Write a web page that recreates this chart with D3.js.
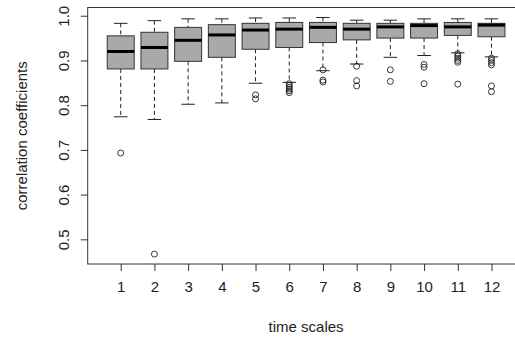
<!DOCTYPE html>
<html>
<head>
<meta charset="utf-8">
<script src="https://cdn.jsdelivr.net/npm/d3@7"></script>
<style>
  body { margin:0; background:#fff; }
  svg text { font-family: "Liberation Sans", Arial, sans-serif; fill:#222; }
</style>
</head>
<body>
<div id="chart"></div>
<script>
// time scales on x axis
var categories = [1,2,3,4,5,6,7,8,9,10,11,12];

// box stats
var whiskHi = [0.983,0.989,0.993,0.993,0.995,0.995,0.996,0.990,0.990,0.993,0.993,0.993];
var upperQ  = [0.955,0.963,0.974,0.980,0.983,0.985,0.985,0.983,0.983,0.983,0.985,0.983];
var medians = [0.920,0.929,0.945,0.957,0.968,0.970,0.974,0.970,0.975,0.978,0.975,0.979];
var lowerQ  = [0.881,0.881,0.898,0.907,0.925,0.929,0.940,0.946,0.950,0.950,0.956,0.953];
var whiskLo = [0.774,0.768,0.802,0.805,0.849,0.851,0.877,0.892,0.907,0.911,0.917,0.908];

var outliers = [
  [0.693],
  [0.467],
  [],
  [],
  [0.823,0.814],
  [0.848,0.844,0.840,0.836,0.832,0.828],
  [0.879,0.856,0.852],
  [0.887,0.855,0.843],
  [0.879,0.853],
  [0.891,0.885,0.848],
  [0.915,0.910,0.905,0.900,0.896,0.847],
  [0.905,0.900,0.895,0.890,0.843,0.830]
];

var yTicks = [0.5,0.6,0.7,0.8,0.9,1.0];

var W = 515, H = 337;
var plot = {left:87.7, right:524.5, top:7.5, bottom:264};

var svg = d3.select('#chart').append('svg')
    .attr('width', W).attr('height', H);

var x = d3.scaleLinear().domain([0.02, 12.98]).range([plot.left, plot.right]);
var y = d3.scaleLinear().domain([0.4448, 1.0184]).range([plot.bottom, plot.top]);

var step = x(2) - x(1);
var boxW = step * 0.8;
var capW = boxW * 0.5;

var data = categories.map(function(c, i){
  return {c:c, hi:whiskHi[i], q3:upperQ[i], med:medians[i], q1:lowerQ[i], lo:whiskLo[i], out:outliers[i]};
});

var g = svg.append('g').selectAll('g').data(data).enter().append('g');

// whiskers (dashed)
g.append('line')
  .attr('x1', function(d){return x(d.c);}).attr('x2', function(d){return x(d.c);})
  .attr('y1', function(d){return y(d.hi);}).attr('y2', function(d){return y(d.q3);})
  .attr('stroke','#222').attr('stroke-dasharray','4,3');
g.append('line')
  .attr('x1', function(d){return x(d.c);}).attr('x2', function(d){return x(d.c);})
  .attr('y1', function(d){return y(d.q1);}).attr('y2', function(d){return y(d.lo);})
  .attr('stroke','#222').attr('stroke-dasharray','4,3');

// staples
['hi','lo'].forEach(function(k){
  g.append('line')
    .attr('x1', function(d){return x(d.c) - capW/2;})
    .attr('x2', function(d){return x(d.c) + capW/2;})
    .attr('y1', function(d){return y(d[k]);}).attr('y2', function(d){return y(d[k]);})
    .attr('stroke','#222');
});

// boxes
g.append('rect')
  .attr('x', function(d){return x(d.c) - boxW/2;})
  .attr('width', boxW)
  .attr('y', function(d){return y(d.q3);})
  .attr('height', function(d){return y(d.q1) - y(d.q3);})
  .attr('fill','#a9a9a9').attr('stroke','#333');

// medians
g.append('line')
  .attr('x1', function(d){return x(d.c) - boxW/2;})
  .attr('x2', function(d){return x(d.c) + boxW/2;})
  .attr('y1', function(d){return y(d.med);}).attr('y2', function(d){return y(d.med);})
  .attr('stroke','#000').attr('stroke-width',3);

// outliers
g.selectAll('circle').data(function(d){
    return d.out.map(function(v){return {c:d.c, v:v};});
  }).enter().append('circle')
  .attr('cx', function(d){return x(d.c);})
  .attr('cy', function(d){return y(d.v);})
  .attr('r', 3)
  .attr('fill','none').attr('stroke','#222').attr('stroke-width',0.9);

// frame
svg.append('rect')
  .attr('x', plot.left).attr('y', plot.top)
  .attr('width', plot.right - plot.left).attr('height', plot.bottom - plot.top)
  .attr('fill','none').attr('stroke','#333');

// axes
var xAxis = svg.append('g')
  .attr('transform','translate(0,' + plot.bottom + ')')
  .call(d3.axisBottom(x).tickValues(categories).tickSize(7).tickSizeOuter(0).tickPadding(10));
xAxis.select('.domain').remove();
xAxis.selectAll('line').attr('stroke','#333');
xAxis.selectAll('text').style('font-size','15px').attr('fill','#222');

var yAxis = svg.append('g')
  .attr('transform','translate(' + plot.left + ',0)')
  .call(d3.axisLeft(y).tickValues(yTicks).tickFormat(d3.format('.1f')).tickSize(7).tickSizeOuter(0));
yAxis.select('.domain').remove();
yAxis.selectAll('line').attr('stroke','#333');
yAxis.selectAll('text')
  .style('font-size','15px').attr('fill','#222')
  .attr('x', null).attr('dy', null)
  .attr('text-anchor','middle')
  .attr('transform','translate(' + (-24) + ',0) rotate(-90)')
  .attr('y', 0).attr('dy','0.35em');

// axis titles
svg.append('text')
  .attr('x', (plot.left + plot.right) / 2).attr('y', 332)
  .attr('text-anchor','middle').style('font-size','15px')
  .text('time scales');

svg.append('text')
  .attr('transform','translate(22,' + ((plot.top + plot.bottom) / 2) + ') rotate(-90)')
  .attr('text-anchor','middle').attr('dy','0.35em').style('font-size','15px')
  .text('correlation coefficients');
</script>
</body>
</html>
